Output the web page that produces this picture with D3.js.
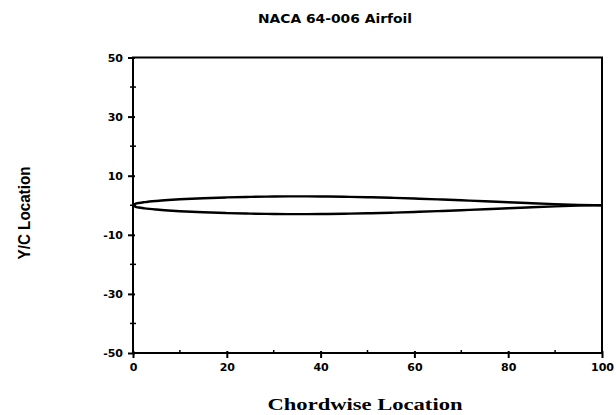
<!DOCTYPE html>
<html><head><meta charset="utf-8">
<script src="https://cdn.jsdelivr.net/npm/d3@7"></script>
<style>body{margin:0;background:#fff}svg{display:block}</style>
</head><body>
<script>
const title = "NACA 64-006 Airfoil";
const xLabel = "Chordwise Location";
const yLabel = "Y/C Location";
const chordX = [0, 0.5, 0.75, 1.25, 2.5, 5, 7.5, 10, 15, 20, 25, 30, 35, 40, 45, 50, 55, 60, 65, 70, 75, 80, 85, 90, 95, 100];
const upperY = [0, 0.503, 0.609, 0.771, 1.057, 1.462, 1.766, 2.010, 2.386, 2.656, 2.841, 2.954, 3.000, 2.971, 2.877, 2.723, 2.517, 2.267, 1.982, 1.670, 1.342, 1.008, 0.683, 0.383, 0.138, 0];
const lowerY = [0, -0.503, -0.609, -0.771, -1.057, -1.462, -1.766, -2.010, -2.386, -2.656, -2.841, -2.954, -3.000, -2.971, -2.877, -2.723, -2.517, -2.267, -1.982, -1.670, -1.342, -1.008, -0.683, -0.383, -0.138, 0];
const xTicks = [0, 20, 40, 60, 80, 100];
const xMinor = [10, 30, 50, 70, 90];
const yTicks = [50, 30, 10, -10, -30, -50];
const yMinor = [40, 20, 0, -20, -40];

const W = 616, H = 415;
const svg = d3.select("body").append("svg").attr("width", W).attr("height", H);
const x = d3.scaleLinear().domain([0, 100]).range([133, 602]);
const y = d3.scaleLinear().domain([-50, 50]).range([353, 57.5]);

// box
svg.append("rect").attr("x", x(0)).attr("y", y(50)).attr("width", x(100) - x(0)).attr("height", y(-50) - y(50))
  .attr("fill", "none").attr("stroke", "#000").attr("stroke-width", 2);

const font = "DejaVu Sans, sans-serif";
// x axis
const xAxis = d3.axisBottom(x).tickValues(xTicks).tickSize(5).tickPadding(5).tickFormat(d3.format("d"));
const gx = svg.append("g").attr("transform", `translate(0,${y(-50)})`).call(xAxis);
gx.select(".domain").remove();
gx.selectAll(".tick line").attr("stroke-width", 2).attr("y1", -2);
gx.selectAll("text").attr("font-family", font).attr("font-weight", "bold").attr("font-size", 11).attr("fill", "#000");
svg.append("g").selectAll("line").data(xMinor).join("line")
  .attr("x1", d => x(d)).attr("x2", d => x(d)).attr("y1", y(-50)).attr("y2", y(-50) - 3)
  .attr("stroke", "#000").attr("stroke-width", 1.5);

// y axis
const yAxis = d3.axisLeft(y).tickValues(yTicks).tickSize(5).tickPadding(5).tickFormat(d => d < 0 ? "-" + Math.abs(d) : d);
const gy = svg.append("g").attr("transform", `translate(${x(0)},0)`).call(yAxis);
gy.select(".domain").remove();
gy.selectAll(".tick line").attr("stroke-width", 2).attr("x1", 2);
gy.selectAll("text").attr("font-family", font).attr("font-weight", "bold").attr("font-size", 11).attr("fill", "#000");
svg.append("g").selectAll("line").data(yMinor).join("line")
  .attr("x1", x(0) - 3).attr("x2", x(0) + 3).attr("y1", d => y(d)).attr("y2", d => y(d))
  .attr("stroke", "#000").attr("stroke-width", 1.5);

// airfoil
const line = d3.line().x(d => x(d[0])).y(d => y(d[1])).curve(d3.curveMonotoneX);
svg.append("path").datum(chordX.map((c, i) => [c, upperY[i]])).attr("d", line)
  .attr("fill", "none").attr("stroke", "#000").attr("stroke-width", 2.4);
svg.append("path").datum(chordX.map((c, i) => [c, lowerY[i]])).attr("d", line)
  .attr("fill", "none").attr("stroke", "#000").attr("stroke-width", 2.4);

// titles
svg.append("text").attr("x", 335).attr("y", 23).attr("text-anchor", "middle")
  .attr("font-family", font).attr("font-weight", "bold").attr("font-size", 13)
  .attr("textLength", 154).attr("lengthAdjust", "spacingAndGlyphs").text(title);
svg.append("text").attr("x", 365).attr("y", 410).attr("text-anchor", "middle")
  .attr("font-family", "Liberation Serif, serif").attr("font-weight", "bold").attr("font-size", 16)
  .attr("textLength", 195).attr("lengthAdjust", "spacingAndGlyphs").text(xLabel);
svg.append("text").attr("transform", "translate(30,213) rotate(-90)").attr("text-anchor", "middle")
  .attr("font-family", "Liberation Sans, sans-serif").attr("font-weight", "bold").attr("font-size", 17)
  .attr("textLength", 93).attr("lengthAdjust", "spacingAndGlyphs").text(yLabel);
</script>
</body></html>
